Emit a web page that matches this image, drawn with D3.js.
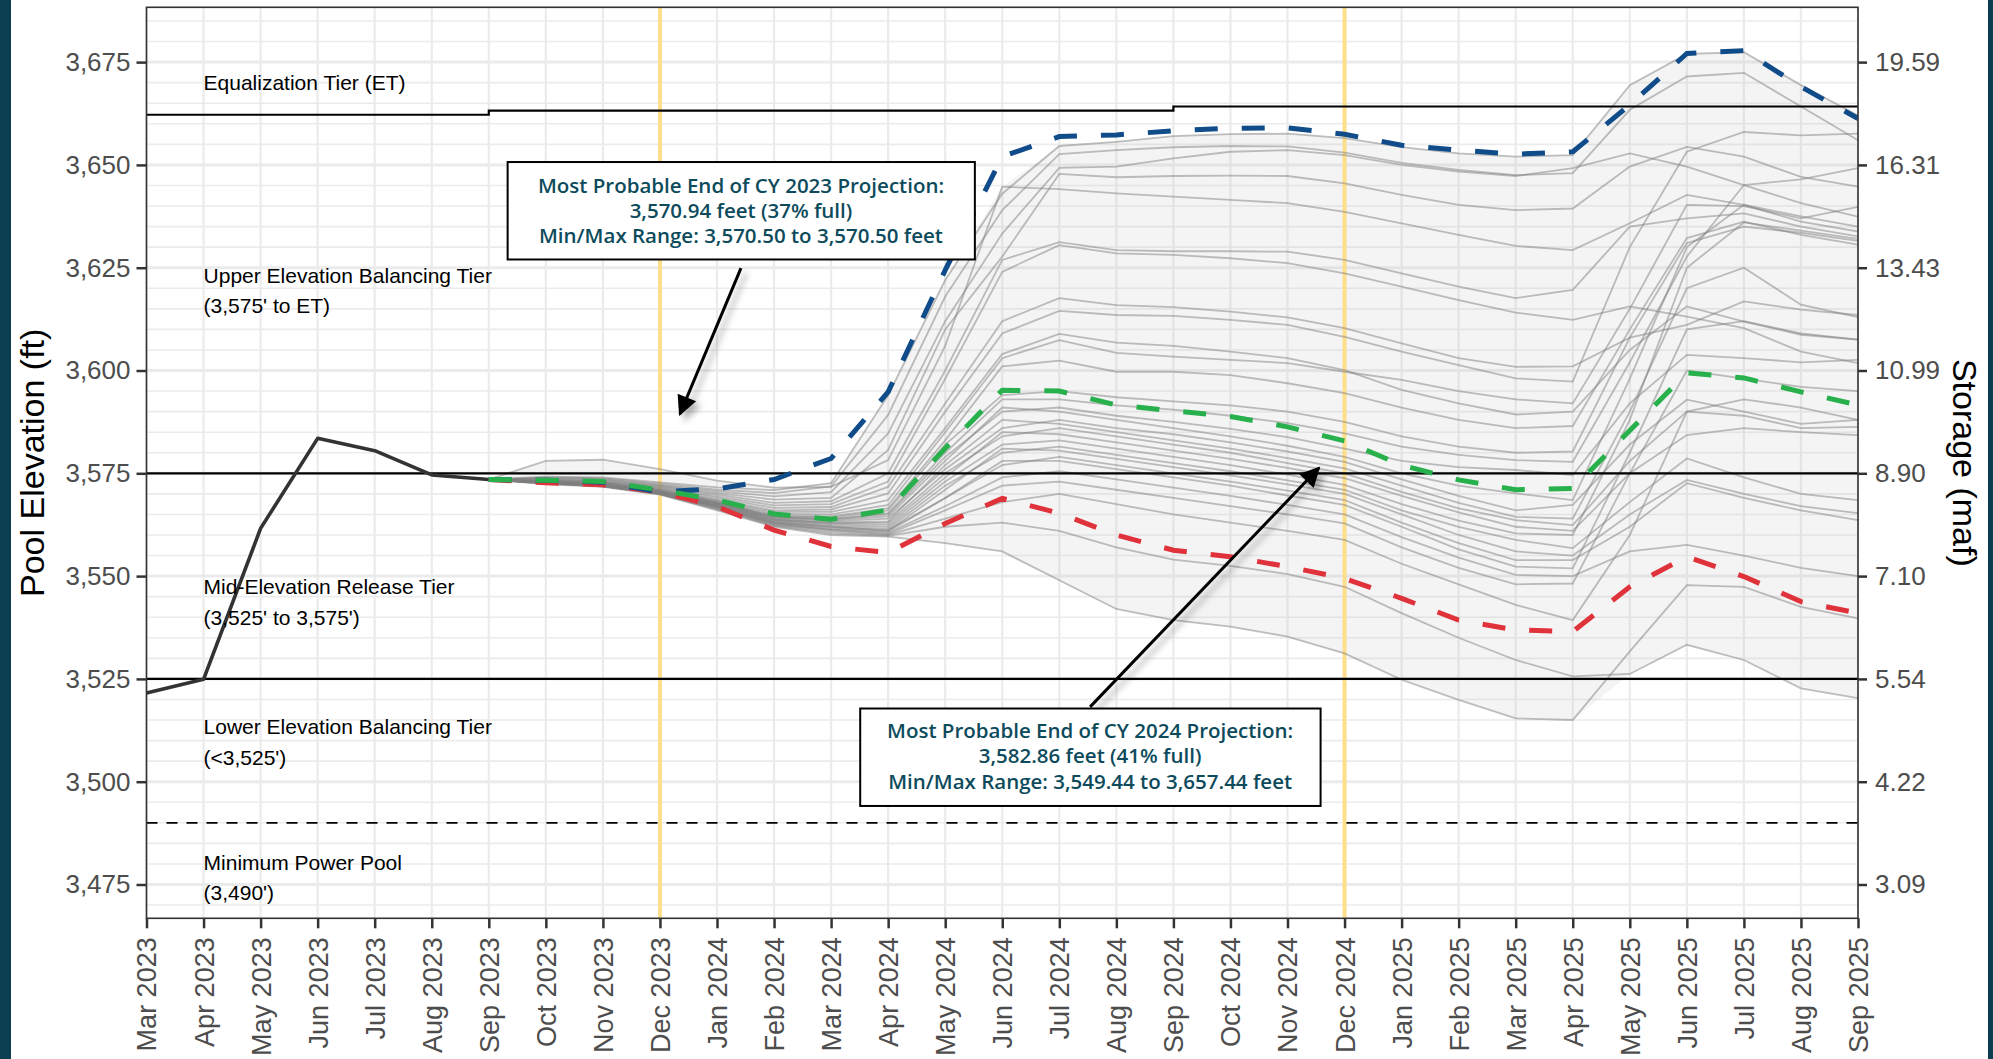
<!DOCTYPE html>
<html lang="en">
<head>
<meta charset="UTF-8"/>
<title>Lake Powell elevation projections</title>
<script src="https://d3js.org/d3.v7.min.js"></script>
<style>
  body { margin: 0; background: #fff; }
  .axis path { display: none; }
  .axis line { stroke: #333; stroke-width: 2.5; }
  .axis text { font-family: "Liberation Sans", Arial, sans-serif; fill: #4d4d4d; }
  .title { font-family: "Liberation Sans", Arial, sans-serif; font-size: 34px; fill: #000; }
  .tier-label { font-family: "Liberation Sans", Arial, sans-serif; font-size: 21px; fill: #000; }
  .note text { font-family: "Open Sans", sans-serif; font-weight: 600; font-size: 20.5px; fill: #0d4b5c; }
</style>
</head>
<body>
<script>
// ---- data ----
const months = ["Mar 2023","Apr 2023","May 2023","Jun 2023","Jul 2023","Aug 2023","Sep 2023",
  "Oct 2023","Nov 2023","Dec 2023","Jan 2024","Feb 2024","Mar 2024","Apr 2024","May 2024",
  "Jun 2024","Jul 2024","Aug 2024","Sep 2024","Oct 2024","Nov 2024","Dec 2024","Jan 2025",
  "Feb 2025","Mar 2025","Apr 2025","May 2025","Jun 2025","Jul 2025","Aug 2025","Sep 2025"];

// observed pool elevation, Mar 2023 - Sep 2023
const histValues = [3521.6, 3524.9, 3561.6, 3583.5, 3580.5, 3574.6, 3573.5];

// projections, Sep 2023 - Sep 2025
const maxProbable = [3573.5, 3573.3, 3572.8, 3570.5, 3571.2, 3573.5, 3578.6, 3594.8, 3624.4, 3652.0,
  3656.9, 3657.3, 3658.3, 3658.9, 3659.0, 3657.44, 3654.8, 3653.6, 3652.6, 3653.2, 3664.6, 3677.1,
  3677.8, 3669.0, 3661.3];
const mostProbable = [3573.5, 3573.3, 3573.0, 3570.94, 3568.5, 3565.1, 3563.8, 3566.1, 3581.1, 3595.2,
  3595.0, 3591.6, 3590.2, 3588.8, 3586.3, 3582.86, 3577.0, 3573.4, 3571.0, 3571.3, 3585.4, 3599.4,
  3598.2, 3594.8, 3591.6];
const minProbable = [3573.5, 3572.7, 3572.2, 3570.5, 3566.9, 3561.2, 3557.2, 3555.7, 3562.8, 3568.9,
  3565.3, 3560.0, 3556.3, 3554.7, 3552.3, 3549.44, 3544.6, 3539.3, 3536.9, 3536.5, 3547.4, 3554.7,
  3549.9, 3543.8, 3541.0];

// ensemble traces, Sep 2023 - Sep 2025
const trace1 = [3573.5,3574.2,3574.0,3572.8,3571.6,3570.9,3572.6,3594.0,3622.0,3643.0,3654.6,3655.6,3657.0,3657.5,3657.6,3656.5,3654.3,3652.8,3652.0,3652.4,3669.4,3677.0,3677.4,3669.4,3662.0];
const trace2 = [3573.5,3574.0,3573.8,3572.5,3571.0,3570.2,3571.8,3589.2,3618.0,3639.0,3652.6,3653.6,3654.3,3654.6,3654.5,3653.0,3650.5,3648.8,3647.5,3648.0,3663.4,3671.5,3672.4,3664.2,3656.0];
const trace3 = [3573.5,3573.9,3573.6,3572.2,3570.6,3569.4,3570.4,3584.7,3612.0,3633.3,3649.3,3649.6,3651.6,3653.2,3653.6,3652.4,3650.0,3648.4,3647.3,3649.2,3652.8,3649.6,3645.1,3640.7,3637.4];
const trace4 = [3573.5,3573.7,3573.4,3572.0,3570.2,3568.6,3569.0,3580.7,3610.0,3627.7,3647.8,3647.0,3647.3,3647.4,3647.3,3645.5,3642.7,3640.3,3639.0,3639.4,3649.6,3654.4,3652.0,3647.1,3644.7];
const trace5 = [3573.5,3578.0,3578.3,3576.0,3573.2,3571.5,3571.7,3578.2,3606.0,3644.7,3644.1,3643.1,3642.3,3641.5,3640.7,3638.6,3635.8,3633.0,3630.3,3629.3,3635.8,3642.7,3640.3,3636.2,3633.8];
const trace6 = [3573.5,3573.5,3573.2,3571.8,3569.8,3567.8,3568.2,3575.0,3600.0,3626.9,3631.2,3629.3,3629.0,3629.0,3628.9,3626.9,3623.6,3620.4,3617.6,3619.6,3635.0,3637.0,3638.2,3635.0,3632.6];
const trace7 = [3573.5,3573.4,3573.0,3571.6,3569.4,3567.2,3567.5,3573.0,3598.0,3624.0,3630.5,3628.5,3628.1,3627.3,3626.1,3623.6,3620.4,3617.1,3614.1,3612.3,3615.6,3613.1,3610.3,3604.6,3601.8];
const trace8 = [3573.5,3573.3,3572.9,3571.4,3569.0,3566.6,3566.8,3571.7,3592.0,3612.0,3617.6,3615.9,3615.4,3614.3,3612.9,3610.3,3606.6,3603.0,3600.9,3601.0,3608.0,3611.1,3616.8,3614.8,3613.5];
const trace9 = [3573.5,3573.2,3572.8,3571.2,3568.6,3566.0,3566.2,3570.1,3590.0,3609.0,3614.5,3613.5,3613.3,3612.3,3611.1,3608.2,3604.6,3601.3,3598.1,3597.3,3630.0,3653.2,3658.0,3657.2,3657.6];
const trace10 = [3573.5,3573.1,3572.7,3571.0,3568.4,3565.6,3565.6,3568.5,3586.0,3604.0,3608.9,3606.8,3606.0,3604.6,3603.0,3600.1,3595.3,3592.0,3589.3,3590.0,3605.0,3615.6,3611.9,3608.7,3607.5];
const trace11 = [3573.5,3573.0,3572.6,3570.9,3568.2,3565.2,3565.0,3567.3,3585.0,3603.0,3607.4,3604.3,3603.4,3602.6,3601.8,3599.7,3597.7,3595.0,3593.0,3592.0,3615.0,3640.3,3640.0,3637.0,3639.8];
const trace12 = [3573.5,3573.0,3572.5,3570.8,3568.0,3564.8,3564.5,3566.5,3583.0,3601.0,3602.4,3599.7,3599.7,3598.9,3596.9,3594.5,3591.0,3588.0,3586.0,3586.5,3610.0,3632.2,3636.2,3633.0,3630.6];
const trace13 = [3573.5,3572.9,3572.4,3570.7,3567.9,3564.6,3564.2,3566.0,3582.0,3594.0,3595.0,3593.5,3592.5,3591.5,3590.0,3587.5,3584.0,3581.5,3580.0,3580.3,3608.0,3631.0,3635.0,3633.5,3631.5];
const trace14 = [3573.5,3572.9,3572.3,3570.6,3567.8,3564.4,3563.9,3565.3,3580.0,3593.0,3593.0,3591.5,3590.5,3589.0,3587.2,3584.7,3581.5,3579.5,3578.2,3577.8,3602.0,3627.7,3645.1,3646.5,3649.2];
const trace15 = [3573.5,3572.8,3572.3,3570.5,3567.6,3564.2,3563.6,3564.5,3578.0,3591.0,3590.0,3588.0,3586.0,3584.0,3581.7,3579.0,3575.0,3572.0,3570.1,3568.5,3598.0,3630.0,3640.3,3637.5,3635.0];
const trace16 = [3573.5,3572.8,3572.2,3570.4,3567.5,3564.0,3563.3,3564.0,3576.0,3586.0,3588.0,3586.0,3584.5,3582.5,3580.3,3577.8,3573.5,3569.5,3566.0,3567.3,3582.0,3592.9,3590.0,3587.0,3588.0];
const trace17 = [3573.5,3572.8,3572.2,3570.3,3567.4,3563.8,3563.0,3563.3,3577.0,3588.0,3587.0,3585.0,3583.0,3581.0,3578.7,3576.2,3572.0,3567.8,3564.4,3564.0,3590.0,3620.0,3625.0,3616.0,3613.0];
const trace18 = [3573.5,3572.7,3572.1,3570.3,3567.2,3563.6,3562.7,3562.5,3574.0,3585.0,3584.5,3582.5,3580.5,3578.5,3576.3,3573.8,3569.5,3565.5,3562.0,3561.0,3575.0,3584.3,3586.0,3585.0,3584.3];
const trace19 = [3573.5,3572.7,3572.1,3570.2,3567.1,3563.4,3562.4,3562.0,3573.0,3582.0,3583.0,3581.0,3579.0,3577.0,3574.7,3572.2,3567.5,3563.5,3560.4,3560.0,3588.0,3625.0,3636.0,3634.0,3632.0];
const trace20 = [3573.5,3572.7,3572.0,3570.2,3567.0,3563.2,3562.1,3561.5,3572.0,3580.0,3581.5,3579.5,3577.5,3575.5,3573.3,3571.0,3566.0,3562.0,3558.8,3556.8,3568.0,3578.6,3574.0,3570.0,3568.5];
const trace21 = [3573.5,3572.6,3572.0,3570.1,3566.9,3563.0,3561.8,3561.2,3569.0,3577.0,3579.0,3577.0,3575.0,3573.0,3570.8,3568.5,3563.0,3558.0,3553.9,3553.9,3562.0,3572.6,3569.0,3566.0,3563.6];
const trace22 = [3573.5,3572.6,3571.9,3570.1,3566.8,3562.8,3561.5,3560.8,3569.0,3578.0,3578.0,3576.0,3574.0,3572.0,3569.6,3567.3,3562.0,3556.5,3552.3,3551.9,3580.0,3610.0,3612.0,3609.0,3607.5];
const trace23 = [3573.5,3572.6,3571.9,3570.0,3566.6,3562.6,3561.2,3560.2,3566.0,3572.0,3573.0,3571.0,3569.0,3567.0,3565.0,3562.8,3557.0,3552.0,3548.0,3548.2,3575.0,3600.0,3598.0,3596.0,3595.0];
const trace24 = [3573.5,3572.5,3571.8,3570.0,3566.4,3562.4,3560.8,3560.0,3564.0,3568.0,3570.0,3567.5,3565.0,3563.0,3561.0,3558.8,3553.0,3548.0,3543.0,3539.3,3560.0,3590.0,3593.0,3591.0,3588.0];
const trace25 = [3573.5,3572.5,3571.8,3569.9,3566.2,3562.2,3560.4,3559.8,3562.0,3563.0,3561.0,3557.0,3554.0,3552.5,3550.5,3547.4,3541.0,3535.0,3529.6,3525.6,3526.2,3533.3,3529.6,3522.7,3520.3];
const trace26 = [3573.5,3572.4,3571.7,3569.8,3566.0,3562.0,3560.0,3559.6,3558.0,3556.0,3549.0,3542.0,3539.3,3537.7,3535.3,3531.2,3524.8,3519.9,3515.4,3515.0,3531.7,3547.8,3547.4,3542.5,3539.7];
const trace27 = [3573.5,3572.9,3572.4,3570.6,3567.7,3564.3,3563.8,3565.0,3579.0,3590.0,3591.0,3589.0,3587.5,3585.8,3583.8,3581.0,3578.0,3576.5,3575.8,3574.6,3592.0,3603.8,3603.0,3602.0,3602.6];
const trace28 = [3573.5,3572.7,3572.1,3570.3,3567.3,3563.7,3562.9,3563.0,3575.0,3584.0,3586.0,3584.0,3582.0,3580.0,3577.5,3575.0,3570.5,3566.5,3563.6,3562.4,3578.0,3590.0,3589.0,3586.0,3586.3];
const trace29 = [3573.5,3572.5,3571.9,3570.0,3566.7,3562.7,3561.3,3560.5,3567.0,3574.0,3575.5,3573.5,3571.5,3569.5,3567.3,3565.0,3559.5,3554.5,3550.3,3550.0,3556.0,3557.6,3555.0,3552.0,3550.0];
const trace30 = [3573.5,3572.6,3572.0,3570.2,3567.0,3563.1,3562.0,3561.0,3571.0,3581.0,3580.5,3578.5,3576.5,3574.5,3572.3,3570.0,3565.0,3560.0,3556.0,3555.0,3565.0,3573.4,3570.0,3567.0,3565.3];

// operating tiers
const etMonths = ["Mar 2023", "Sep 2023", "Sep 2024", "Sep 2025"];
const etValues = [3662.2, 3663.2, 3664.2, 3664.2];
const tierLevels = [3575, 3525];
const minPowerPool = 3490;
const endOfYearMonths = ["Dec 2023", "Dec 2024"];

// axes
const elevTicks = [3475, 3500, 3525, 3550, 3575, 3600, 3625, 3650, 3675];
const storageLabels = ["3.09", "4.22", "5.54", "7.10", "8.90", "10.99", "13.43", "16.31", "19.59"];

const tierText = [
  ["Equalization Tier (ET)"],
  ["Upper Elevation Balancing Tier", "(3,575' to ET)"],
  ["Mid-Elevation Release Tier", "(3,525' to 3,575')"],
  ["Lower Elevation Balancing Tier", "(<3,525')"],
  ["Minimum Power Pool", "(3,490')"]
];
const note2023 = ["Most Probable End of CY 2023 Projection:", "3,570.94 feet (37% full)",
  "Min/Max Range: 3,570.50 to 3,570.50 feet"];
const note2024 = ["Most Probable End of CY 2024 Projection:", "3,582.86 feet (41% full)",
  "Min/Max Range: 3,549.44 to 3,657.44 feet"];

// ---- layout ----
const width = 1993, height = 1059;
const pLeft = 146.5, pRight = 1858, pTop = 7.3, pBottom = 918.3;

const svg = d3.select("body").append("svg")
  .attr("width", width)
  .attr("height", height)
  .style("display", "block");

svg.append("rect").attr("width", width).attr("height", height).attr("fill", "#fff");
svg.append("rect").attr("x", 0).attr("y", 0).attr("width", 11).attr("height", height).attr("fill", "#0c3e51");
svg.append("rect").attr("x", 1988).attr("y", 0).attr("width", 5).attr("height", height).attr("fill", "#0c3e51");

const x = d3.scalePoint().domain(months).range([pLeft, pRight]);
const y = d3.scaleLinear().domain([3466.78, 3688.33]).range([pBottom, pTop]);
// fractional month position, used to place annotations
const xAt = i => pLeft + i * x.step();

const defs = svg.append("defs");
defs.append("clipPath").attr("id", "panel")
  .append("rect").attr("x", pLeft).attr("y", pTop).attr("width", pRight - pLeft).attr("height", pBottom - pTop);
const shadow = defs.append("filter").attr("id", "shadow")
  .attr("x", "-50%").attr("y", "-50%").attr("width", "200%").attr("height", "200%");
shadow.append("feDropShadow").attr("dx", 5).attr("dy", 5).attr("stdDeviation", 3)
  .attr("flood-color", "#000").attr("flood-opacity", 0.3);
defs.append("marker").attr("id", "head")
  .attr("markerUnits", "userSpaceOnUse")
  .attr("viewBox", "0 0 10 10").attr("refX", 9).attr("refY", 5)
  .attr("markerWidth", 24).attr("markerHeight", 20)
  .attr("orient", "auto")
  .append("path").attr("d", "M0,0 L10,5 L0,10 Z").attr("fill", "#000");

// grid
const grid = svg.append("g");
d3.range(3470, 3688, 5).forEach(v => {
  grid.append("line")
    .attr("x1", pLeft).attr("x2", pRight)
    .attr("y1", y(v)).attr("y2", y(v))
    .attr("stroke", "#ebebeb")
    .attr("stroke-width", v % 25 === 0 ? 3 : 1.6);
});
months.forEach(m => {
  grid.append("line")
    .attr("x1", x(m)).attr("x2", x(m))
    .attr("y1", pTop).attr("y2", pBottom)
    .attr("stroke", "#ebebeb").attr("stroke-width", 2.2);
});

const plot = svg.append("g").attr("clip-path", "url(#panel)");
const projMonths = months.slice(months.indexOf("Sep 2023"));
const traces = [trace1, trace2, trace3, trace4, trace5, trace6, trace7, trace8, trace9, trace10,
  trace11, trace12, trace13, trace14, trace15, trace16, trace17, trace18, trace19, trace20,
  trace21, trace22, trace23, trace24, trace25, trace26, trace27, trace28, trace29, trace30];

// min/max envelope of the traces
const envelope = d3.area()
  .x(i => x(projMonths[i]))
  .y0(i => y(d3.min(traces, t => t[i])))
  .y1(i => y(d3.max(traces, t => t[i])));
plot.append("path")
  .attr("d", envelope(d3.range(projMonths.length)))
  .attr("fill", "#bfbfbf").attr("fill-opacity", 0.17);

// end-of-year markers
endOfYearMonths.forEach(m => {
  plot.append("line")
    .attr("x1", x(m)).attr("x2", x(m))
    .attr("y1", pTop).attr("y2", pBottom)
    .attr("stroke", "#fddf8b").attr("stroke-width", 4);
});

const projLine = d3.line().x((d, i) => x(projMonths[i])).y(d => y(d));

plot.selectAll(".trace")
  .data(traces)
  .enter().append("path")
  .attr("class", "trace")
  .attr("d", projLine)
  .attr("fill", "none")
  .attr("stroke", "#808080")
  .attr("stroke-opacity", 0.5)
  .attr("stroke-width", 1.8);

// tier lines
plot.append("path")
  .attr("d", d3.line().curve(d3.curveStepAfter).x((d, i) => x(etMonths[i])).y(d => y(d))(etValues))
  .attr("fill", "none").attr("stroke", "#000").attr("stroke-width", 2.2);
tierLevels.forEach(v => {
  plot.append("line")
    .attr("x1", pLeft).attr("x2", pRight)
    .attr("y1", y(v)).attr("y2", y(v))
    .attr("stroke", "#000").attr("stroke-width", 2.2);
});
plot.append("line")
  .attr("x1", pLeft).attr("x2", pRight)
  .attr("y1", y(minPowerPool)).attr("y2", y(minPowerPool))
  .attr("stroke", "#000").attr("stroke-width", 1.8)
  .attr("stroke-dasharray", "11,9");

// observed elevations
plot.append("path")
  .attr("d", d3.line().x((d, i) => x(months[i])).y(d => y(d))(histValues))
  .attr("fill", "none").attr("stroke", "#333").attr("stroke-width", 3.6)
  .attr("stroke-linejoin", "round");

// probable runs
[[minProbable, "#e0323b"], [maxProbable, "#0f4c89"], [mostProbable, "#27b04b"]].forEach(([vals, col]) => {
  plot.append("path")
    .attr("d", projLine(vals))
    .attr("fill", "none")
    .attr("stroke", col)
    .attr("stroke-width", 5)
    .attr("stroke-dasharray", "23,24");
});

// panel border
svg.append("rect")
  .attr("x", pLeft).attr("y", pTop)
  .attr("width", pRight - pLeft).attr("height", pBottom - pTop)
  .attr("fill", "none").attr("stroke", "#333").attr("stroke-width", 1.6);

// tier labels
const tierLabelElev = [3668.1, 3621.3, 3545.6, 3511.6, 3478.6];
tierText.forEach((lines, k) => {
  const t = svg.append("text").attr("class", "tier-label")
    .attr("x", x("Apr 2023")).attr("y", y(tierLabelElev[k]));
  lines.forEach((s, j) => {
    t.append("tspan").attr("x", x("Apr 2023")).attr("dy", j === 0 ? 0 : 30.5).text(s);
  });
});

// axes
const yLeft = svg.append("g").attr("class", "axis")
  .attr("transform", `translate(${pLeft},0)`)
  .call(d3.axisLeft(y).tickValues(elevTicks).tickFormat(d3.format(",")).tickSize(10).tickPadding(6));
yLeft.selectAll("text").style("font-size", "26px");

const yRight = svg.append("g").attr("class", "axis")
  .attr("transform", `translate(${pRight},0)`)
  .call(d3.axisRight(y).tickValues(elevTicks).tickFormat((d, i) => storageLabels[i]).tickSize(9).tickPadding(8));
yRight.selectAll("text").style("font-size", "26px");

const xAxis = svg.append("g").attr("class", "axis")
  .attr("transform", `translate(0,${pBottom})`)
  .call(d3.axisBottom(x).tickSize(10));
xAxis.selectAll("text")
  .style("font-size", "27px")
  .style("text-anchor", "end")
  .attr("transform", "rotate(-90)")
  .attr("x", -19).attr("y", 0).attr("dy", "0.35em");

svg.append("text").attr("class", "title")
  .attr("transform", `translate(44,${(pTop + pBottom) / 2}) rotate(-90)`)
  .attr("text-anchor", "middle")
  .text("Pool Elevation (ft)");
svg.append("text").attr("class", "title")
  .attr("transform", `translate(1953,${(pTop + pBottom) / 2}) rotate(90)`)
  .attr("text-anchor", "middle")
  .text("Storage (maf)");

// annotations
function note(lines, cx, baseElev, box, arrow) {
  const g = svg.append("g").attr("class", "note");
  g.append("line")
    .attr("x1", xAt(arrow[0])).attr("y1", y(arrow[1]))
    .attr("x2", xAt(arrow[2])).attr("y2", y(arrow[3]))
    .attr("stroke", "#000").attr("stroke-width", 3)
    .attr("marker-end", "url(#head)")
    .attr("filter", "url(#shadow)");
  g.append("rect")
    .attr("x", xAt(box[0])).attr("y", y(box[3]))
    .attr("width", xAt(box[1]) - xAt(box[0])).attr("height", y(box[2]) - y(box[3]))
    .attr("fill", "#fff").attr("stroke", "#000").attr("stroke-width", 2);
  lines.forEach((s, j) => {
    g.append("text")
      .attr("x", xAt(cx)).attr("y", y(baseElev) + j * 25.3)
      .attr("text-anchor", "middle")
      .text(s);
  });
}
note(note2023, 10.42, 3643.2, [6.33, 14.52, 3627.0, 3650.7], [10.42, 3624.9, 9.35, 3589.4]);
note(note2024, 16.54, 3510.6, [12.51, 20.58, 3494.1, 3517.8], [16.54, 3518.2, 20.55, 3576.3]);
</script>
</body>
</html>
